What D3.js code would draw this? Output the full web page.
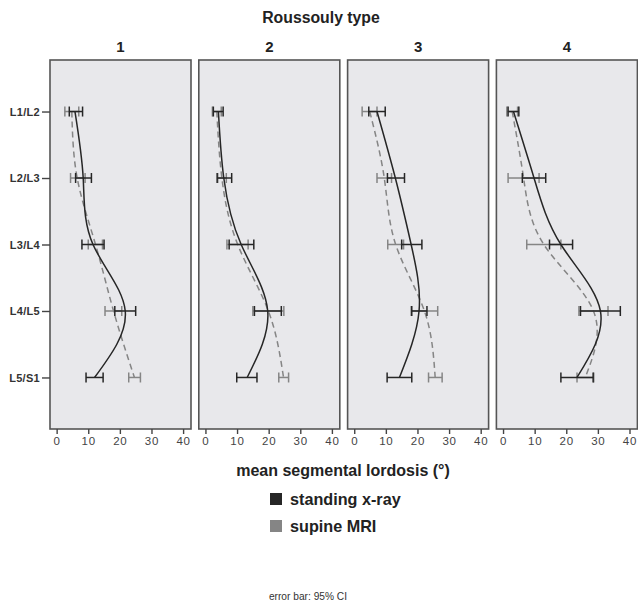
<!DOCTYPE html>
<html><head><meta charset="utf-8">
<script src="https://cdn.jsdelivr.net/npm/d3@7"></script>
<style>body{margin:0;background:#fff;} svg{display:block;font-family:"Liberation Sans",Arial,sans-serif;}</style>
</head><body><svg id="c" width="638" height="605"></svg>
<script>
const categories = ["L1/L2","L2/L3","L3/L4","L4/L5","L5/S1"];
const types = ["1","2","3","4"];
const xTicks = [0,10,20,30,40];
const seriesNames = ["standing x-ray","supine MRI"];

// standing x-ray: mean, lower and upper 95% CI per type
const standingMean = [[5.8,8.4,11.5,21.7,12.0],[4.1,5.8,11.3,19.7,13.2],[7.2,13.0,18.0,20.5,14.3],[3.3,9.8,18.3,30.8,23.4]];
const standingLow  = [[4.0,6.0,8.0,18.4,9.3],[2.5,3.7,7.5,15.5,9.9],[4.6,10.5,15.0,18.2,10.4],[1.6,6.1,14.7,24.5,18.3]];
const standingHigh = [[8.2,11.0,15.0,25.0,14.7],[5.6,8.3,15.3,24.0,16.3],[9.8,15.9,21.4,23.0,18.2],[5.0,13.5,22.0,37.1,28.5]];
// supine MRI
const supineMean = [[4.8,6.5,12.3,18.0,24.6],[3.6,5.2,10.2,19.9,24.7],[4.9,9.5,13.1,22.2,25.6],[2.9,6.5,12.9,28.6,26.0]];
const supineLow  = [[2.6,4.4,10.0,15.3,22.8],[2.2,3.9,6.8,15.0,23.2],[2.5,7.2,10.6,18.0,23.5],[1.2,1.6,7.5,24.0,23.4]];
const supineHigh = [[7.0,9.0,14.5,20.6,26.5],[5.0,6.6,13.5,24.8,26.3],[7.2,11.8,15.6,26.4,27.8],[4.6,11.4,18.3,33.2,28.7]];

const svg = d3.select("#c");
const left0 = 50, pw = 141, gap = 7.8, pTop = 60, pBottom = 429;
const colStand = "#262626", colSup = "#858585";

const y = d3.scalePoint().domain(categories).range([pTop, pBottom]).padding(0.775);

svg.append("text").attr("x", 321).attr("y", 23).attr("text-anchor","middle")
  .attr("font-size", 15.8).attr("font-weight","bold").attr("fill","#222").text("Roussouly type");

const series = [
  {mean: standingMean, low: standingLow, high: standingHigh, color: colStand, dash: null},
  {mean: supineMean, low: supineLow, high: supineHigh, color: colSup, dash: "6,4"}
];

types.forEach((t, ti) => {
  const L = left0 + ti*(pw+gap);
  const x = d3.scaleLinear().domain([-2.1, 42.5]).range([L, L+pw]);
  const g = svg.append("g");
  g.append("rect").attr("x", L).attr("y", pTop).attr("width", pw).attr("height", pBottom-pTop)
    .attr("fill","#e8e8eb").attr("stroke","#555").attr("stroke-width",1.6);
  svg.append("text").attr("x", L+pw/2).attr("y", 52).attr("text-anchor","middle")
    .attr("font-size", 15).attr("font-weight","bold").attr("fill","#222").text(t);

  const ax = svg.append("g").attr("transform",`translate(0,${pBottom})`)
    .call(d3.axisBottom(x).tickValues(xTicks).tickSize(5).tickPadding(3));
  ax.select(".domain").remove();
  ax.selectAll("line").attr("stroke","#444").attr("stroke-width",1.4);
  ax.selectAll("text").attr("font-size",11.5).attr("fill","#444").attr("letter-spacing",0.8)
    .attr("font-family","Liberation Sans, Arial, sans-serif");

  [series[1], series[0]].forEach(s => {
    const pts = categories.map((c,i)=>({c, m:s.mean[ti][i], lo:s.low[ti][i], hi:s.high[ti][i]}));
    const line = d3.line().x(d=>x(d.m)).y(d=>y(d.c)).curve(d3.curveNatural);
    g.append("path").datum(pts).attr("d", line).attr("fill","none")
      .attr("stroke", s.color).attr("stroke-width",1.5).attr("stroke-dasharray", s.dash);
    const eb = g.selectAll(null).data(pts).enter().append("g");
    eb.append("line").attr("x1",d=>x(d.lo)).attr("x2",d=>x(d.hi)).attr("y1",d=>y(d.c)).attr("y2",d=>y(d.c))
      .attr("stroke", s.color).attr("stroke-width",1.5);
    eb.append("line").attr("x1",d=>x(d.lo)).attr("x2",d=>x(d.lo)).attr("y1",d=>y(d.c)-5).attr("y2",d=>y(d.c)+5)
      .attr("stroke", s.color).attr("stroke-width",1.5);
    eb.append("line").attr("x1",d=>x(d.hi)).attr("x2",d=>x(d.hi)).attr("y1",d=>y(d.c)-5).attr("y2",d=>y(d.c)+5)
      .attr("stroke", s.color).attr("stroke-width",1.5);
  });
});

const ay = svg.append("g").attr("transform",`translate(${left0},0)`)
  .call(d3.axisLeft(y).tickSize(8).tickPadding(2));
ay.select(".domain").remove();
ay.selectAll("line").attr("stroke","#444").attr("stroke-width",1.4);
ay.selectAll("text").attr("font-size",11).attr("font-weight","bold").attr("fill","#333").attr("letter-spacing",0.3)
  .attr("font-family","Liberation Sans, Arial, sans-serif");

svg.append("text").attr("x", 343).attr("y", 476).attr("text-anchor","middle")
  .attr("font-size", 16).attr("font-weight","bold").attr("fill","#222").text("mean segmental lordosis (°)");

seriesNames.forEach((n,i) => {
  const yy = 493 + i*27;
  svg.append("rect").attr("x",270).attr("y",yy).attr("width",12).attr("height",12)
    .attr("fill", i===0 ? colStand : colSup);
  svg.append("text").attr("x",290).attr("y",yy+12).attr("font-size",16.2).attr("font-weight","bold")
    .attr("fill","#222").text(n);
});

svg.append("text").attr("x", 308).attr("y", 600).attr("text-anchor","middle")
  .attr("font-size", 10.2).attr("fill","#333").text("error bar: 95% CI");
</script></body></html>
